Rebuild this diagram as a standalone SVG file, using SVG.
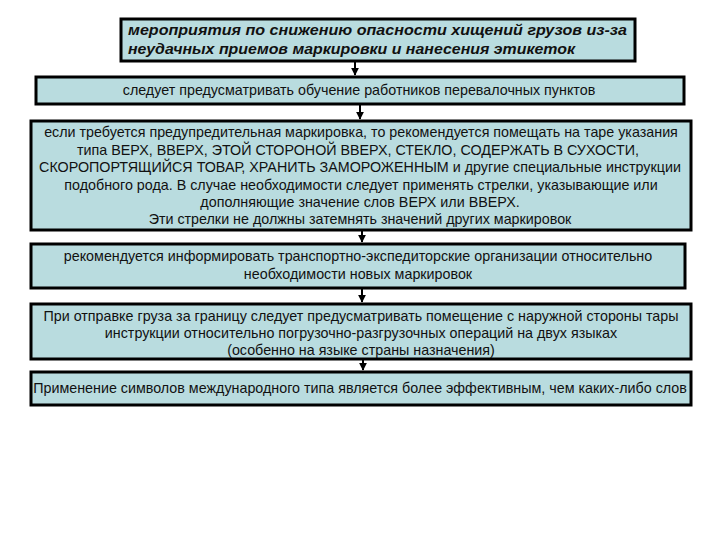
<svg xmlns="http://www.w3.org/2000/svg" width="720" height="540" viewBox="0 0 720 540">
<defs>
<style>
.box{fill:#b9dcdf;stroke:#000;stroke-width:3}
.t{font-family:"Liberation Sans",Arial,sans-serif;font-size:14.3px;fill:#111;text-anchor:middle}
.h{font-family:"Liberation Sans",Arial,sans-serif;font-size:15.5px;font-weight:bold;font-style:italic;fill:#111}
.c{stroke:#000;stroke-width:2;fill:none}
</style>
<marker id="ah" viewBox="0 0 10 10" refX="9" refY="5" markerWidth="4" markerHeight="4" orient="auto"><path d="M0,0 L10,5 L0,10 z" fill="#000"/></marker>
</defs>
<rect width="720" height="540" fill="#fff"/>
<g id="connectors">
<line class="c" x1="355" y1="62" x2="355" y2="75" marker-end="url(#ah)"/>
<line class="c" x1="360" y1="105" x2="360" y2="119" marker-end="url(#ah)"/>
<line class="c" x1="362" y1="231" x2="362" y2="242" marker-end="url(#ah)"/>
<line class="c" x1="362" y1="289" x2="362" y2="302" marker-end="url(#ah)"/>
<line class="c" x1="363" y1="360" x2="363" y2="370" marker-end="url(#ah)"/>
</g>
<g id="n1">
<rect class="box" x="121" y="19" width="514" height="42"/>
<text class="h" x="128" y="35" textLength="499" lengthAdjust="spacingAndGlyphs">мероприятия по снижению опасности хищений грузов из-за</text>
<text class="h" x="128" y="54" textLength="447" lengthAdjust="spacingAndGlyphs">неудачных приемов маркировки и нанесения этикеток</text>
</g>
<g id="n2">
<rect class="box" x="36" y="77" width="648" height="27"/>
<text class="t" x="359" y="95">следует предусматривать обучение работников перевалочных пунктов</text>
</g>
<g id="n3">
<rect class="box" x="31" y="121" width="660" height="109"/>
<text class="t" x="361" y="137">если требуется предупредительная маркировка, то рекомендуется помещать на таре указания</text>
<text class="t" x="358" y="154.5">типа ВЕРХ, ВВЕРХ, ЭТОЙ СТОРОНОЙ ВВЕРХ, СТЕКЛО, СОДЕРЖАТЬ В СУХОСТИ,</text>
<text class="t" x="360" y="172">СКОРОПОРТЯЩИЙСЯ ТОВАР, ХРАНИТЬ ЗАМОРОЖЕННЫМ и другие специальные инструкции</text>
<text class="t" x="361" y="189.5">подобного рода. В случае необходимости следует применять стрелки, указывающие или</text>
<text class="t" x="360" y="207">дополняющие значение слов ВЕРХ или ВВЕРХ.</text>
<text class="t" x="360" y="224">Эти стрелки не должны затемнять значений других маркировок</text>
</g>
<g id="n4">
<rect class="box" x="31" y="244" width="654" height="44"/>
<text class="t" x="358" y="261">рекомендуется информировать транспортно-экспедиторские организации относительно</text>
<text class="t" x="358" y="279">необходимости новых маркировок</text>
</g>
<g id="n5">
<rect class="box" x="31" y="304" width="660" height="55"/>
<text class="t" x="361" y="321">При отправке груза за границу следует предусматривать помещение с наружной стороны тары</text>
<text class="t" x="361" y="338">инструкции относительно погрузочно-разгрузочных операций на двух языках</text>
<text class="t" x="361" y="355">(особенно на языке страны назначения)</text>
</g>
<g id="n6">
<rect class="box" x="31" y="372" width="660" height="33"/>
<text class="t" x="360" y="393">Применение символов международного типа является более эффективным, чем каких-либо слов</text>
</g>
</svg>
